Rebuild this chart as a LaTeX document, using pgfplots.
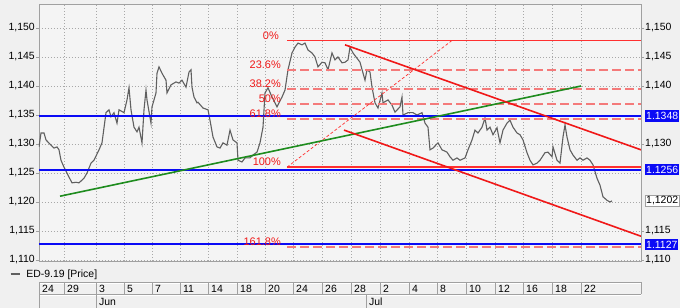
\documentclass[border=0pt]{standalone}
\usepackage{fontspec}
\setmainfont{Liberation Sans}
\usepackage{pgfplots}
\pgfplotsset{compat=1.18}
\definecolor{bgout}{HTML}{F0F0F0}
\definecolor{bgplot}{HTML}{F4F4F4}
\definecolor{gridc}{HTML}{A8A8A8}
\definecolor{pricec}{HTML}{606060}
\definecolor{lblue}{HTML}{0A0AF5}
\definecolor{lred}{HTML}{F01818}
\definecolor{fibred}{HTML}{FF3030}
\definecolor{fibdash}{HTML}{F47A7A}
\definecolor{lgreen}{HTML}{1E8C1E}
\definecolor{framec}{HTML}{A0A0A0}
\begin{document}
\begin{tikzpicture}[font=\fontsize{10.5}{12}\selectfont]
\fill[bgout] (-39bp,-47bp) rectangle (641bp,261bp);
\begin{axis}[name=ax, at={(0,0)}, anchor=south west, scale only axis,
  width=602bp, height=257bp,
  xmin=0, xmax=602, ymin=1.10983, ymax=1.15414,
  axis background/.style={fill=bgplot},
  axis line style={framec},
  grid=major,
  major grid style={gridc, dash pattern=on 1bp off 2bp, line width=0.5bp},
  xtick={25,57,85,113,141,169,198,226,254,283,312,341,370,398,427,456,484,513,542},
  xticklabels={}, xtick style={draw=none},
  ytick={1.110,1.115,1.120,1.125,1.130,1.135,1.140,1.145,1.150},
  ytick pos=left, tick align=outside, major tick length=3bp,
  ytick style={framec},
  yticklabel style={inner xsep=1bp, /pgf/number format/.cd, fixed, fixed zerofill, precision=3, use comma, assume math mode=true},
  legend style={at={(-0.0482,-0.0506)}, anchor=west, draw=none, fill=none, inner sep=0pt, nodes={inner sep=1bp},
    /tikz/every odd column/.append style={column sep=5bp}},
  legend cell align=left,
  legend image code/.code={\draw[#1] (0bp,0bp) -- (9bp,0bp);},
]
\addplot[pricec, line width=1.1bp] coordinates {
(0,1.1295) (2,1.1319) (5,1.1319) (7,1.1307) (12,1.1298) (15,1.1293) (18,1.1295)
(20,1.1290) (22,1.1272) (25,1.1260) (30,1.1243) (33,1.1233) (37,1.1234) (40,1.1233)
(45,1.1241) (48,1.1250) (52,1.1267) (55,1.1272) (60,1.1290) (63,1.1302) (67,1.1354)
(70,1.1359) (72,1.1347) (75,1.1354) (78,1.1336) (80,1.1359) (85,1.1354) (88,1.1376)
(90,1.1397) (92,1.1359) (95,1.1329) (98,1.1321) (100,1.1329) (103,1.1302) (105,1.1359)
(107,1.1393) (108,1.1376) (112,1.1336) (113,1.1364) (117,1.1388) (118,1.1422)
(120,1.1433) (123,1.1422) (127,1.1410) (128,1.1388) (132,1.1402) (137,1.1407)
(140,1.1405) (143,1.1410) (147,1.1398) (150,1.1424) (152,1.1428) (153,1.1398)
(155,1.1381) (158,1.1371) (159,1.1372) (164,1.1362) (169,1.1359) (171,1.1341)
(174,1.1312) (178,1.1295) (181,1.1293) (184,1.1302) (188,1.1298) (191,1.1324)
(194,1.1307) (198,1.1302) (199,1.1272) (203,1.1269) (206,1.1276) (211,1.1276)
(214,1.1281) (218,1.1286) (221,1.1302) (224,1.1329) (226,1.1388) (229,1.1397)
(233,1.1381) (238,1.1364) (243,1.1381) (246,1.1393) (249,1.1428) (253,1.1457)
(256,1.1467) (259,1.1474) (263,1.1471) (266,1.1474) (269,1.1462) (273,1.1457)
(276,1.1450) (279,1.1433) (283,1.1441) (286,1.1440) (289,1.1428) (293,1.1457)
(296,1.1445) (299,1.1450) (303,1.1440) (306,1.1441) (309,1.1445) (311,1.1467)
(314,1.1457) (321,1.1441) (326,1.1410) (328,1.1428) (331,1.1424) (333,1.1398)
(336,1.1371) (339,1.1362) (343,1.1388) (344,1.1371) (349,1.1376) (353,1.1367)
(356,1.1355) (361,1.1364) (363,1.1381) (364,1.1350) (369,1.1354) (374,1.1354)
(378,1.1350) (383,1.1354) (386,1.1336) (389,1.1329) (391,1.1290) (394,1.1293)
(399,1.1302) (403,1.1290) (408,1.1286) (411,1.1278) (414,1.1272) (418,1.1276)
(421,1.1272) (426,1.1276) (429,1.1290) (433,1.1307) (436,1.1324) (439,1.1319)
(443,1.1329) (446,1.1345) (448,1.1324) (451,1.1329) (454,1.1316) (458,1.1328)
(459,1.1319) (461,1.1302) (464,1.1324) (468,1.1336) (471,1.1341) (474,1.1329)
(478,1.1319) (481,1.1316) (484,1.1307) (488,1.1285) (491,1.1272) (494,1.1264)
(498,1.1267) (501,1.1272) (506,1.1285) (509,1.1286) (513,1.1278) (514,1.1295)
(518,1.1272) (521,1.1267) (524,1.1312) (526,1.1333) (528,1.1312) (531,1.1290)
(534,1.1281) (538,1.1272) (541,1.1276) (544,1.1272) (548,1.1276) (551,1.1272)
(554,1.1264) (558,1.1241) (561,1.1229) (564,1.1209) (568,1.1203) (571,1.1200)
(573,1.1202)
};
\addlegendentry{ED-9.19 [Price]}
% horizontal support / resistance lines
\addplot[lblue, line width=2bp, forget plot] coordinates {(0,1.1348) (602,1.1348)};
\addplot[lblue, line width=2bp, forget plot] coordinates {(0,1.1256) (602,1.1256)};
\addplot[lblue, line width=2bp, forget plot] coordinates {(0,1.1127) (602,1.1127)};
% Fibonacci levels
\addplot[fibred, line width=1.5bp, forget plot] coordinates {(248,1.14785) (602,1.14785)};
\addplot[fibred, line width=1.5bp, forget plot] coordinates {(248,1.1260) (602,1.1260)};
\addplot[fibdash, line width=1.6bp, dash pattern=on 9bp off 4bp, forget plot] coordinates {(248,1.1428) (602,1.1428)};
\addplot[fibdash, line width=1.6bp, dash pattern=on 9bp off 4bp, forget plot] coordinates {(248,1.1395) (602,1.1395)};
\addplot[fibdash, line width=1.6bp, dash pattern=on 9bp off 4bp, forget plot] coordinates {(248,1.1369) (602,1.1369)};
\addplot[fibdash, line width=1.6bp, dash pattern=on 9bp off 4bp, forget plot] coordinates {(248,1.1343) (602,1.1343)};
\addplot[fibdash, line width=1.6bp, dash pattern=on 9bp off 4bp, forget plot] coordinates {(248,1.1122) (602,1.1122)};
\addplot[fibred, line width=0.7bp, dash pattern=on 3bp off 2bp, forget plot] coordinates {(248,1.1260) (413,1.14785)};
% trend lines
\addplot[lgreen, line width=1.6bp, forget plot] coordinates {(21,1.1210) (542,1.1400)};
\addplot[lred, line width=1.6bp, forget plot] coordinates {(306,1.1471) (602,1.1290)};
\addplot[lred, line width=1.6bp, forget plot] coordinates {(305,1.1324) (602,1.1141)};
% Fibonacci labels
\begin{scope}[every node/.style={anchor=south east, text=lred, inner sep=1bp, font=\fontsize{11}{12}\selectfont}]
\node at (axis cs:241,1.14785) {0\%};
\node at (axis cs:243,1.1428) {23.6\%};
\node at (axis cs:243,1.1395) {38.2\%};
\node at (axis cs:243,1.1369) {50\%};
\node at (axis cs:243,1.1343) {61.8\%};
\node at (axis cs:243,1.1260) {100\%};
\node at (axis cs:243,1.1122) {161.8\%};
\end{scope}
\coordinate (b1) at (axis cs:602,1.1348);
\coordinate (b2) at (axis cs:602,1.1256);
\coordinate (b3) at (axis cs:602,1.1127);
\coordinate (b4) at (axis cs:602,1.1202);
\end{axis}
\begin{axis}[at={(0,0)}, anchor=south west, scale only axis,
  width=602bp, height=257bp,
  xmin=0, xmax=602, ymin=1.10983, ymax=1.15414,
  axis x line=none, axis y line*=right,
  y axis line style={framec},
  ytick={1.110,1.115,1.130,1.140,1.145,1.150},
  tick align=outside, major tick length=3bp, ytick style={framec},
  yticklabel style={inner xsep=1bp, /pgf/number format/.cd, fixed, fixed zerofill, precision=3, use comma, assume math mode=true},
]
\addplot[draw=none] coordinates {(0,1.12) (602,1.13)};
\end{axis}
% value boxes on the right
\begin{scope}[every node/.style={anchor=west, inner xsep=1bp, inner ysep=0pt, minimum height=11.5bp}]
\node[fill=lblue, text=white] at ([xshift=4bp]b1) {1.1348};
\node[fill=lblue, text=white] at ([xshift=4bp]b2) {1.1256};
\node[fill=lblue, text=white] at ([xshift=4bp]b3) {1.1127};
\node[fill=white, draw=framec, text=black] at ([xshift=4bp]b4) {1,1202};
\end{scope}
% date strip
\draw[framec, line width=0.6bp] (0,-21bp) -- (602bp,-21bp) (0,-33bp) -- (602bp,-33bp);
\draw[white, line width=0.6bp] (0,-22bp) -- (602bp,-22bp) (0,-34bp) -- (602bp,-34bp);
\draw[framec, line width=0.6bp] (0,-21bp) -- (0,-47bp) (57bp,-33bp) -- (57bp,-47bp) (327bp,-33bp) -- (327bp,-47bp);
\foreach \x in {25,57,85,113,141,169,198,226,254,283,312,341,370,398,427,456,484,513,542,602}
  \draw[framec, line width=0.6bp] (\x bp,-21bp) -- (\x bp,-33bp);
\foreach \x/\l in {0/24,25/29,57/3,85/5,113/7,141/11,169/14,198/18,226/20,254/24,283/26,312/28,341/2,370/4,398/8,427/10,456/12,484/16,513/18,542/22}
  \node[anchor=west, inner xsep=0pt, inner ysep=0pt] at ({\x bp+3bp},-27.5bp) {\l};
\node[anchor=west, inner sep=0pt] at (60bp,-40.5bp) {Jun};
\node[anchor=west, inner sep=0pt] at (330bp,-40.5bp) {Jul};
\pgfresetboundingbox
\path (-39bp,-47bp) rectangle (641bp,261bp);
\end{tikzpicture}
\end{document}
